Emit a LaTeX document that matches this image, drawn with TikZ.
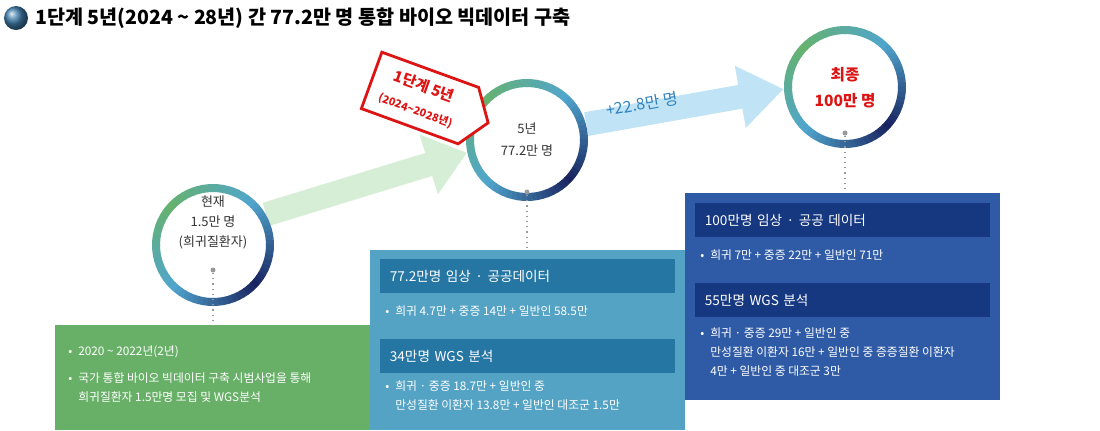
\documentclass[tikz,border=0pt]{standalone}
\usepackage{fontspec}
\setmainfont{Noto Sans CJK KR}
\usetikzlibrary{calc,arrows.meta,shapes.symbols}

\definecolor{ringA}{RGB}{102,178,110}
\definecolor{ringB}{RGB}{80,165,205}
\definecolor{ringC}{RGB}{25,35,95}
\definecolor{boxgreen}{RGB}{104,176,104}
\definecolor{boxteal}{RGB}{84,163,196}
\definecolor{barteal}{RGB}{38,118,163}
\definecolor{boxnavy}{RGB}{47,91,166}
\definecolor{barnavy}{RGB}{22,56,128}
\definecolor{tagred}{RGB}{220,20,20}
\definecolor{arrowgreen}{RGB}{214,237,214}
\definecolor{arrowblue}{RGB}{192,228,245}
\definecolor{plusblue}{RGB}{48,130,190}

\tikzset{
  stage/.style={circle,fill=white,minimum size=61pt,inner sep=0pt},
  ctext/.style={font=\fontsize{6.5}{10}\selectfont,align=center,text=black!80},
  bar/.style={anchor=north west,minimum width=147.5pt,minimum height=17pt,inner sep=0pt,
    text width=138pt,font=\fontsize{6.8}{8}\selectfont,text=white,align=left},
  item/.style={anchor=north west,font=\fontsize{5.9}{9.5}\selectfont,text=white,align=left,inner sep=0pt},
  pin/.style={circle,fill=black!40,minimum size=2.5pt,inner sep=0pt},
  lead/.style={black!40,dotted,line width=0.6pt},
}

% gradient ring round a stage node
\newcommand{\gradring}[1]{%
  \foreach \a in {0,5,...,355}{
    \pgfmathsetmacro\dd{abs(mod(\a-135+540,360)-180)}
    \pgfmathparse{\dd<90?1:0}
    \ifnum\pgfmathresult=1
      \pgfmathsetmacro\pp{\dd/90*100}
      \colorlet{ringcol}{ringB!\pp!ringA}
    \else
      \pgfmathsetmacro\pp{(\dd-90)/90*100}
      \colorlet{ringcol}{ringC!\pp!ringB}
    \fi
    \draw[ringcol,line width=4pt] ($(#1)+(\a:28.5pt)$) arc (\a:\a+5.6:28.5pt);
  }}

\begin{document}
\begin{tikzpicture}[x=0.5pt,y=-0.5pt]
\useasboundingbox (0,0) rectangle (1100,430);

% title
\shade[ball color=ringB!70!ringC] (16,18) circle (12);
\node[anchor=west,font=\fontsize{9.8}{11}\bfseries] (title) at (28,18)
  {1단계 5년(2024 \textasciitilde{} 28년) 간 77.2만 명 통합 바이오 빅데이터 구축};

% info boxes
\fill[boxgreen] (55,325) rectangle (370,430);
\fill[boxteal] (370,250) rectangle (685,430);
\fill[boxnavy] (685,193) rectangle (1000,400);

\node[item] (g1) at (68,345) {•\enspace 2020 \textasciitilde{} 2022년(2년)};
\node[item] (g2) at (68,372) {•\enspace 국가 통합 바이오 빅데이터 구축 시범사업을 통해\\
  \phantom{•\enspace}희귀질환자 1.5만명 모집 및 WGS분석};

\node[bar,fill=barteal] (t1) at (380,259) {77.2만명 임상 · 공공데이터};
\node[item] (t2) at (385,305) {•\enspace 희귀 4.7만 + 중증 14만 + 일반인 58.5만};
\node[bar,fill=barteal] (t3) at (380,339) {34만명 WGS 분석};
\node[item] (t4) at (385,380) {•\enspace 희귀 · 중증 18.7만 + 일반인 중\\
  \phantom{•\enspace}만성질환 이환자 13.8만 + 일반인 대조군 1.5만};

\node[bar,fill=barnavy] (n1) at (695,203) {100만명 임상 · 공공 데이터};
\node[item] (n2) at (700,249) {•\enspace 희귀 7만 + 중증 22만 + 일반인 71만};
\node[bar,fill=barnavy] (n3) at (695,283) {55만명 WGS 분석};
\node[item] (n4) at (700,327) {•\enspace 희귀 · 중증 29만 + 일반인 중\\
  \phantom{•\enspace}만성질환 이환자 16만 + 일반인 중 증증질환 이환자\\
  \phantom{•\enspace}4만 + 일반인 중 대조군 3만};

% stages
\node[stage] (now) at (213,245) {};
\node[stage] (mid) at (527,140) {};
\node[stage] (goal) at (845,87) {};

% arrows between stages
\draw[arrowgreen,line width=12pt,-{Triangle[width=30pt,length=20pt]}]
  (now.30) -- (mid.192);
\draw[arrowblue,line width=12pt,-{Triangle[width=30pt,length=22pt]}]
  (mid.15) -- (goal.182);
\node[text=plusblue,font=\fontsize{8}{9}\selectfont,rotate=10] (plus) at (642,104) {+22.8만 명};

\node[stage] at (now) {};
\node[stage] at (mid) {};
\node[stage] at (goal) {};
\gradring{now}
\gradring{mid}
\gradring{goal}

\node[ctext] (nowtxt) at (213,222) {현재\\1.5만 명\\(희귀질환자)};
\node[ctext,font=\fontsize{6.5}{11}\selectfont] (midtxt) at (527,140) {5년\\77.2만 명};
\node[ctext,text=tagred,font=\fontsize{7.8}{13}\bfseries\selectfont] (goaltxt) at (845,88) {최종\\100만 명};

% pins and leads
\node[pin] (p1) at (213,270) {};
\node[pin] (p2) at (527,192) {};
\node[pin] (p3) at (845,133) {};
\draw[lead] (p1) -- (213,325);
\draw[lead] (p2) -- (527,250);
\draw[lead] (p3) -- (845,193);

% tag
\node[signal,signal to=east,signal pointer angle=110,draw=tagred,line width=1.4pt,fill=white,rotate=-20,
  minimum width=62pt,minimum height=30pt,inner sep=2pt,align=center,text=tagred] (tag) at (420,98)
  {\fontsize{7.5}{9}\bfseries\selectfont 1단계 5년\\\fontsize{5.4}{6}\bfseries\selectfont (2024\textasciitilde2028년)};
\end{tikzpicture}
\end{document}
